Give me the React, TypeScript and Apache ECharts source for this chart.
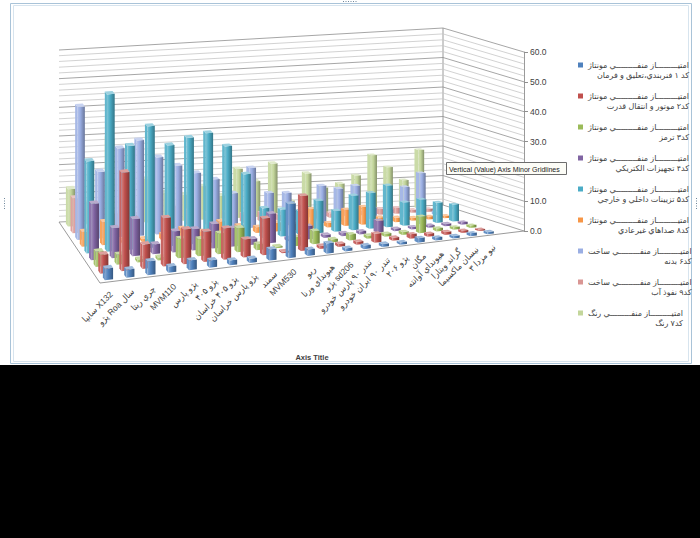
import React, { useEffect, useRef } from 'react';
import * as echarts from 'echarts';

// car models, left to right along the front of the floor
const categories = [
  'سايپا X132',
  'پژو Roa سال',
  'چري ريتا',
  'MVM110',
  'پژو پارس',
  'پژو ۴۰۵',
  'پژو ۴۰۵ خراسان',
  'پژو پارس خراسان',
  'سمند',
  'MVM530',
  'ريو',
  'هيونداي ورنا',
  'پژو sd206',
  'تندر ۹۰ پارس خودرو',
  'تندر ۹۰ ايران خودرو',
  'پژو ۲۰۶',
  'مگان',
  'هيونداي آوانته',
  'گراند ويتارا',
  'نيسان ماکسيما',
  'نيو مزدا ۳',
];

const seriesGroups = ['مونتاژ', 'مونتاژ', 'مونتاژ', 'مونتاژ', 'مونتاژ', 'مونتاژ', 'ساخت', 'ساخت', 'رنگ'];
const seriesCodes = [
  'کد ۱ فنربندي،تعليق و فرمان',
  'کد۲ موتور و انتقال قدرت',
  'کد۳ ترمز',
  'کد۴ تجهيزات الکتريکي',
  'کد۵ تزيينات داخلي و خارجي',
  'کد۸ صداهاي غيرعادي',
  'کد۶ بدنه',
  'کد۹ نفوذ آب',
  'کد۷ رنگ',
];
const seriesNames = seriesCodes.map((c, i) => `امتيـــــــــاز منفـــــــــي ${seriesGroups[i]}\n${c}`);
const seriesColors = ['#4F81BD', '#C0504D', '#9BBB59', '#8064A2', '#4BACC6', '#F79646', '#9AAEE3', '#D99694', '#C3D69B'];

// one array per series, front row first
const code1 = [3.8, 2.6, 4.5, 2.0, 3.2, 2.4, 1.6, 1.4, 3.7, 17.9, 2.1, 3.4, 1.0, 1.2, 1.0, 0.8, 1.5, 1.0, 0.8, 1.0, 0.8];
const code2 = [6.2, 32.5, 8.0, 16.0, 11.5, 10.0, 10.4, 6.0, 12.2, 0.5, 18.3, 1.0, 1.0, 1.0, 3.0, 1.0, 1.5, 1.0, 1.0, 0.8, 0.5];
const code3 = [5.0, 3.3, 1.0, 1.0, 6.5, 5.7, 6.9, 8.0, 2.0, 0.5, 3.0, 4.4, 1.0, 2.0, 1.0, 1.0, 1.0, 5.5, 1.0, 0.8, 0.8];
const code4 = [18.8, 10.0, 12.4, 3.3, 7.0, 7.1, 8.2, 6.2, 2.0, 9.8, 1.0, 4.5, 1.0, 1.0, 1.0, 4.0, 0.8, 0.8, 0.8, 0.8, 0.8];
const code5 = [31, 53, 35, 41, 34, 36, 37, 32, 22, 10, 9, 8, 10.9, 7, 11.6, 12, 14, 7.8, 8.3, 6.8, 5.7];
const code8 = [5.0, 7.8, 1.0, 1.0, 2.0, 3.5, 2.0, 4.9, 3.0, 2.0, 3.0, 2.0, 6.6, 1.5, 5.5, 6.0, 2.0, 1.5, 1.0, 1.0, 0.8];
const body6 = [45.5, 22.8, 30.3, 32.6, 26.3, 23.0, 20.0, 17.4, 12.2, 20.4, 11.4, 11.0, 6.0, 12.6, 11.2, 11.8, 4.0, 3.0, 10.2, 14.5, 1.0];
const water9 = [12, 5.5, 6, 5, 9.4, 7.3, 5.2, 4, 4, 3, 3, 2, 2, 2.5, 1.5, 2, 1.5, 2, 2, 1, 1];
const paint7 = [13, 8, 29.6, 15.4, 15, 10, 9, 11.5, 8, 16.8, 12.3, 18, 5, 14, 8.8, 9.9, 12.4, 19, 14.6, 9.9, 19.9];
const seriesValues = [code1, code2, code3, code4, code5, code8, body6, water9, paint7];

const gridTicks = [0, 2, 4, 6, 8, 10, 12, 14, 16, 18, 20, 22, 24, 26, 28, 30, 32, 34, 36, 38, 40, 42, 44, 46, 48, 50, 52, 54, 56, 58, 60];

const FONT = "'Liberation Sans', 'DejaVu Sans', sans-serif";

// projected floor corners and wall heights (px for the full 60)
const FL = [100, 283];
const FR = [524, 231];
const BL = [59, 222];
const BR = [443, 205];
const HFL = 184;
const HFR = 179;
const HBL = 172;
const HBR = 177;
const G0 = 0.0243;
const G1 = 0.927;
const K = 0.128;
const ROWS = seriesValues.length;

const floorPt = (g: number, v: number): number[] => {
  const lx = FL[0] + (BL[0] - FL[0]) * v;
  const ly = FL[1] + (BL[1] - FL[1]) * v;
  const rx = FR[0] + (BR[0] - FR[0]) * v;
  const ry = FR[1] + (BR[1] - FR[1]) * v;
  return [lx + (rx - lx) * g, ly + (ry - ly) * g];
};
const heightAt = (g: number, v: number) => {
  const hl = HFL + (HBL - HFL) * v;
  const hr = HFR + (HBR - HFR) * v;
  return hl + (hr - hl) * g;
};
const warp = (t: number) => (t * (1 + K)) / (1 + K * t);
const rowPos = (t: number) => G0 + (G1 - G0) * warp(t);

const mix = (hex: string, target: number, amt: number) => {
  const n = parseInt(hex.slice(1), 16);
  const f = (c: number) => Math.round(c + (target - c) * amt);
  return `rgb(${f((n >> 16) & 255)},${f((n >> 8) & 255)},${f(n & 255)})`;
};
const lighten = (h: string, a: number) => mix(h, 255, a);
const darken = (h: string, a: number) => mix(h, 0, a);

const barRenderer = (row: number) => (params: any, api: any) => {
  const cs = params.coordSys;
  const idx = api.value(0);
  const top = api.coord([idx, api.value(1)]);
  const base = api.coord([idx, 0]);
  const t = (base[0] - cs.x) / cs.width;
  const step = 1 / (categories.length - 1);
  const g = rowPos(t);
  const du = (0.19 * (rowPos(t + step) - rowPos(t - step))) / 2;
  const v = (row + 0.5) / ROWS;
  const dv = 0.22 / ROWS;
  const h = Math.max(1.2, ((base[1] - top[1]) * heightAt(g, v)) / HFR);
  const A = floorPt(g - du, v - dv);
  const B = floorPt(g + du, v - dv);
  const C = floorPt(g - du, v + dv);
  const D = floorPt(g + du, v + dv);
  const up = (p: number[]) => [p[0], p[1] - h];
  const color = seriesColors[row];
  return {
    type: 'group',
    children: [
      { type: 'polygon', shape: { points: [C, A, up(A), up(C)] }, style: { fill: lighten(color, 0.12) } },
      {
        type: 'polygon',
        shape: { points: [A, B, up(B), up(A)] },
        style: {
          fill: new echarts.graphic.LinearGradient(0, 0, 1, 0, [
            { offset: 0, color: lighten(color, 0.3) },
            { offset: 0.4, color: color },
            { offset: 1, color: darken(color, 0.32) },
          ]),
        },
      },
      { type: 'polygon', shape: { points: [up(A), up(B), up(D), up(C)] }, style: { fill: lighten(color, 0.45) } },
    ],
  };
};

const wallRenderer = (params: any, api: any) => {
  const val = api.value(1);
  const p = api.coord([0, val]);
  const p0 = api.coord([0, 0]);
  const hp = p0[1] - p[1];
  const major = val % 10 === 0;
  const line = {
    type: 'polyline',
    shape: { points: [[BL[0], BL[1] - (hp * HBL) / HFR], [BR[0], BR[1] - (hp * HBR) / HFR], [FR[0], FR[1] - hp]] },
    style: { stroke: major ? '#8f8f8f' : '#c6c6c6', lineWidth: 0.8, fill: 'none' },
  };
  if (params.dataIndex !== 0) return line;
  const pTop = api.coord([0, gridTicks[gridTicks.length - 1]]);
  const hTop = p0[1] - pTop[1];
  return {
    type: 'group',
    children: [
      { type: 'polygon', shape: { points: [FL, FR, BR, BL] }, style: { fill: '#ffffff', stroke: 'none' } },
      { type: 'polyline', shape: { points: [BL, FL, FR] }, style: { stroke: '#8f8f8f', lineWidth: 0.9, fill: 'none' } },
      {
        type: 'line',
        shape: { x1: BR[0], y1: BR[1], x2: BR[0], y2: BR[1] - (hTop * HBR) / HFR },
        style: { stroke: '#8f8f8f', lineWidth: 0.9, fill: 'none' },
      },
      line,
    ],
  };
};

const labelRenderer = (params: any, api: any) => {
  const cs = params.coordSys;
  const base = api.coord([api.value(0), 0]);
  const t = (base[0] - cs.x) / cs.width;
  const pt = floorPt(rowPos(t), 0);
  return {
    type: 'text',
    x: pt[0] + 1,
    y: pt[1] + 11,
    rotation: Math.PI / 4,
    style: {
      text: categories[params.dataIndex],
      align: 'right',
      verticalAlign: 'middle',
      fontSize: 8.5,
      fill: '#404040',
      fontFamily: FONT,
    },
  };
};

const buildOption = () => {
  const bars = [];
  for (let j = ROWS - 1; j >= 0; j--) {
    bars.push({
      type: 'custom',
      name: seriesNames[j],
      coordinateSystem: 'cartesian2d',
      renderItem: barRenderer(j),
      data: seriesValues[j].map((v, i) => [i, v]),
      encode: { x: 0, y: 1 },
      itemStyle: { color: seriesColors[j] },
      clip: false,
      silent: true,
      z: 3,
    });
  }
  return {
    animation: false,
    backgroundColor: 'transparent',
    grid: { left: FL[0], right: 700 - FR[0], top: FR[1] - HFR, bottom: 538 - FR[1] },
    xAxis: {
      type: 'category',
      data: categories,
      boundaryGap: false,
      axisLine: { show: false },
      axisTick: { show: false },
      axisLabel: { show: false },
      splitLine: { show: false },
      name: 'Axis Title',
      nameLocation: 'middle',
      nameGap: 122,
      nameTextStyle: { fontWeight: 'bold', fontSize: 7.5, color: '#404040', fontFamily: FONT },
    },
    yAxis: {
      type: 'value',
      position: 'right',
      min: 0,
      max: 60,
      interval: 10,
      axisLine: { show: true, lineStyle: { color: '#8f8f8f', width: 0.9 } },
      axisTick: { show: true, length: 4, lineStyle: { color: '#8f8f8f' } },
      axisLabel: { formatter: (v: number) => v.toFixed(1), fontSize: 8.5, color: '#404040', margin: 6, fontFamily: FONT },
      splitLine: { show: false },
    },
    legend: {
      data: seriesNames,
      orient: 'vertical',
      left: 573,
      top: 56,
      align: 'left',
      icon: 'rect',
      itemWidth: 5,
      itemHeight: 5,
      itemGap: 13,
      selectedMode: false,
      formatter: (name: string) => {
        const [a, b] = name.split('\n');
        return `{r|${a}}\n{r|${b}}`;
      },
      textStyle: {
        padding: [10, 0, 0, 0],
        rich: { r: { align: 'right', fontSize: 8, lineHeight: 10, color: '#404040', fontFamily: FONT } },
      },
    },
    graphic: [
      { type: 'rect', shape: { x: 0, y: 0, width: 700, height: 365 }, style: { fill: '#ffffff' }, z: -10, silent: true },
      { type: 'rect', shape: { x: 10.5, y: 3.5, width: 681, height: 360 }, style: { fill: 'none', stroke: '#a9c3d8', lineWidth: 1 }, z: -9, silent: true },
      { type: 'rect', shape: { x: 13.5, y: 5.5, width: 675, height: 356 }, style: { fill: 'none', stroke: '#d7e4ee', lineWidth: 1 }, z: -9, silent: true },
      { type: 'line', shape: { x1: 343, y1: 1.5, x2: 357, y2: 1.5 }, style: { stroke: '#6f879b', lineDash: [1, 1.5] }, z: -8, silent: true },
      { type: 'line', shape: { x1: 4.5, y1: 198, x2: 4.5, y2: 210 }, style: { stroke: '#6f879b', lineDash: [1, 1.5] }, z: -8, silent: true },
      { type: 'line', shape: { x1: 696.5, y1: 198, x2: 696.5, y2: 210 }, style: { stroke: '#6f879b', lineDash: [1, 1.5] }, z: -8, silent: true },
      {
        type: 'rect',
        shape: { x: 446.5, y: 162.5, width: 120, height: 12 },
        style: { fill: '#fcfcf6', stroke: '#6d6d6d', lineWidth: 1 },
        z: 100,
        silent: true,
      },
      {
        type: 'text',
        x: 449,
        y: 169,
        style: { text: 'Vertical (Value) Axis Minor Gridlines', fontSize: 7, fontFamily: FONT, fill: '#222222', verticalAlign: 'middle' },
        z: 101,
        silent: true,
      },
    ],
    series: [
      {
        type: 'custom',
        coordinateSystem: 'cartesian2d',
        renderItem: wallRenderer,
        data: gridTicks.map((v) => [0, v]),
        encode: { x: 0, y: 1 },
        clip: false,
        silent: true,
        z: 1,
      },
      ...bars,
      {
        type: 'custom',
        coordinateSystem: 'cartesian2d',
        renderItem: labelRenderer,
        data: categories.map((_, i) => [i, 0]),
        encode: { x: 0, y: 1 },
        clip: false,
        silent: true,
        z: 4,
      },
    ],
  };
};

export default function App() {
  const chartRef = useRef<HTMLDivElement>(null);

  useEffect(() => {
    if (!chartRef.current) return;
    const chart = echarts.init(chartRef.current, null, { renderer: 'svg' });
    chart.setOption(buildOption() as any);
    return () => {
      chart.dispose();
    };
  }, []);

  return (
    <div style={{ position: 'fixed', left: 0, top: 0, width: 700, height: 538, background: '#000' }}>
      <div ref={chartRef} style={{ width: 700, height: 538 }} />
    </div>
  );
}
